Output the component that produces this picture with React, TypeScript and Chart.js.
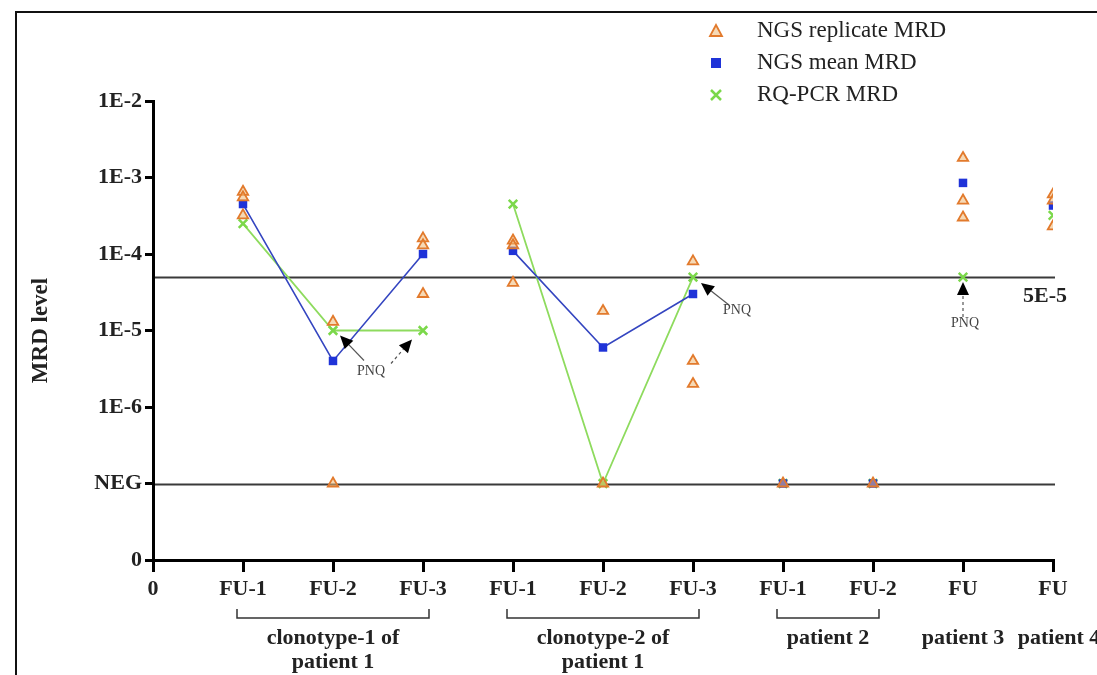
import React, { useEffect, useRef } from 'react';
import { Chart, registerables } from 'chart.js';

Chart.register(...registerables);

// ---------------- data ----------------
const xTickLabels = ['0', 'FU-1', 'FU-2', 'FU-3', 'FU-1', 'FU-2', 'FU-3', 'FU-1', 'FU-2', 'FU', 'FU'];
const yTickLabels = ['0', 'NEG', '1E-6', '1E-5', '1E-4', '1E-3', '1E-2'];
const NEG = 0; // negative sample
const sampleX = [1, 2, 3, 4, 5, 6, 7, 8, 9, 10];
const replicateMRD: number[][] = [
  [6.5e-4, 5.5e-4, 3.2e-4],
  [1.3e-5, NEG],
  [1.6e-4, 1.3e-4, 3.0e-5],
  [1.5e-4, 1.3e-4, 4.2e-5],
  [1.8e-5, NEG],
  [8.0e-5, 4.0e-6, 2.0e-6],
  [NEG],
  [NEG],
  [1.8e-3, 5.0e-4, 3.0e-4],
  [6.0e-4, 5.0e-4, 2.3e-4],
];
const meanMRD = [4.5e-4, 4.0e-6, 1.0e-4, 1.1e-4, 6.0e-6, 3.0e-5, NEG, NEG, 8.5e-4, 4.3e-4];
const rqpcrMRD = [2.5e-4, 1.0e-5, 1.0e-5, 4.5e-4, NEG, 5.0e-5, NEG, NEG, 5.0e-5, 3.2e-4];
const connectedGroups = [[0, 1, 2], [3, 4, 5]];
const thresholdMRD = 5e-5;
const thresholdLabel = '5E-5';
const seriesNames = ['NGS replicate MRD', 'NGS mean MRD', 'RQ-PCR MRD'];
const groupLabels = [
  { from: 1, to: 3, lines: ['clonotype-1 of', 'patient 1'], bracket: true, shift: 0 },
  { from: 4, to: 6, lines: ['clonotype-2 of', 'patient 1'], bracket: true, shift: 0 },
  { from: 7, to: 8, lines: ['patient 2'], bracket: true, shift: 0 },
  { from: 9, to: 9, lines: ['patient 3'], bracket: false, shift: 0 },
  { from: 10, to: 10, lines: ['patient 4'], bracket: false, shift: 6 },
];
const pnqLabel = 'PNQ';

// ---------------- styling ----------------
const SERIF = '"Liberation Serif", "Times New Roman", serif';
const ORANGE = '#E27A2C';
const ORANGE_FILL = 'rgba(238,186,120,0.55)';
const BLUE = '#1F33D8';
const BLUE_LINE = '#3445C0';
const GREEN = '#7BD84A';
const GREEN_LINE = '#8EDB5E';

const pnqArrows = [
  { sample: 1, tip: [7, 5], tail: [31, 30], dashed: false },
  { sample: 2, tip: [-11, 9], tail: [-32, 33], dashed: true },
  { sample: 5, tip: [8, 6], tail: [36, 28], dashed: false },
  { sample: 8, tip: [0, 5], tail: [0, 40], dashed: true },
];
const pnqTexts = [
  { sample: 1, off: [38, 41] },
  { sample: 5, off: [44, 33] },
  { sample: 8, off: [2, 46] },
];

const toAxis = (v: number) => (v === NEG ? 1 : Math.log10(v) + 8);

function buildLine(values: number[]) {
  const pts: any[] = [];
  connectedGroups.forEach((g, gi) => {
    if (gi > 0) pts.push({ x: sampleX[g[0]] - 0.5, y: null });
    g.forEach((i) => pts.push({ x: sampleX[i], y: toAxis(values[i]) }));
  });
  return pts;
}

const annotationPlugin = {
  id: 'mrdAnnotations',
  beforeDatasetsDraw(chart: any) {
    const { ctx, chartArea, scales } = chart;
    const y = scales.y;
    ctx.save();
    ctx.strokeStyle = '#3a3a3a';
    ctx.lineWidth = 2;
    [toAxis(thresholdMRD), toAxis(NEG)].forEach((v) => {
      const py = Math.round(y.getPixelForValue(v)) + 0.5;
      ctx.beginPath();
      ctx.moveTo(chartArea.left + 2, py);
      ctx.lineTo(chartArea.right + 2, py);
      ctx.stroke();
    });
    ctx.restore();
  },
  afterDatasetsDraw(chart: any) {
    const { ctx, scales } = chart;
    const xs = scales.x;
    const ys = scales.y;
    const pt = (i: number) => [xs.getPixelForValue(sampleX[i]), ys.getPixelForValue(toAxis(rqpcrMRD[i]))];
    ctx.save();
    pnqArrows.forEach((a) => {
      const [px, py] = pt(a.sample);
      const tx = px + a.tip[0], ty = py + a.tip[1];
      const fx = px + a.tail[0], fy = py + a.tail[1];
      const ang = Math.atan2(ty - fy, tx - fx);
      const L = 13, W = 6;
      const bx = tx - L * Math.cos(ang), by = ty - L * Math.sin(ang);
      ctx.strokeStyle = '#555';
      ctx.lineWidth = 1.2;
      ctx.setLineDash(a.dashed ? [3, 3] : []);
      ctx.beginPath();
      ctx.moveTo(fx, fy);
      ctx.lineTo(bx, by);
      ctx.stroke();
      ctx.setLineDash([]);
      ctx.fillStyle = '#000';
      ctx.beginPath();
      ctx.moveTo(tx, ty);
      ctx.lineTo(bx + W * Math.sin(ang), by - W * Math.cos(ang));
      ctx.lineTo(bx - W * Math.sin(ang), by + W * Math.cos(ang));
      ctx.closePath();
      ctx.fill();
    });
    ctx.fillStyle = '#444';
    ctx.font = `14px ${SERIF}`;
    ctx.textAlign = 'center';
    ctx.textBaseline = 'middle';
    pnqTexts.forEach((t) => {
      const [px, py] = pt(t.sample);
      ctx.fillText(pnqLabel, px + t.off[0], py + t.off[1]);
    });
    ctx.restore();
  },
  afterDraw(chart: any) {
    const { ctx, chartArea, scales } = chart;
    const xs = scales.x;
    const ys = scales.y;
    ctx.save();
    // threshold label
    ctx.fillStyle = '#222';
    ctx.font = `bold 22px ${SERIF}`;
    ctx.textAlign = 'right';
    ctx.textBaseline = 'middle';
    ctx.fillText(thresholdLabel, chartArea.right + 14, ys.getPixelForValue(toAxis(thresholdMRD)) + 19);

    // group labels and brackets
    const bracketY = chartArea.bottom + 58;
    ctx.strokeStyle = '#333';
    ctx.lineWidth = 1.5;
    ctx.fillStyle = '#222';
    ctx.textAlign = 'center';
    groupLabels.forEach((g) => {
      const x0 = xs.getPixelForValue(g.from) - 6;
      const x1 = xs.getPixelForValue(g.to) + 6;
      if (g.bracket) {
        ctx.beginPath();
        ctx.moveTo(x0, bracketY - 9);
        ctx.lineTo(x0, bracketY);
        ctx.lineTo(x1, bracketY);
        ctx.lineTo(x1, bracketY - 9);
        ctx.stroke();
      }
      const cx = (x0 + x1) / 2 + g.shift;
      g.lines.forEach((ln, li) => {
        ctx.fillText(ln, cx, bracketY + 20 + li * 24);
      });
    });

    // legend
    const lx = 716;
    const lyStart = 31;
    const lstep = 32;
    ctx.font = `23px ${SERIF}`;
    ctx.textAlign = 'left';
    ctx.textBaseline = 'middle';
    seriesNames.forEach((name, i) => {
      const ly = lyStart + i * lstep;
      if (i === 0) {
        ctx.fillStyle = ORANGE_FILL;
        ctx.strokeStyle = ORANGE;
        ctx.lineWidth = 1.8;
        ctx.beginPath();
        ctx.moveTo(lx, ly - 6);
        ctx.lineTo(lx + 6, ly + 5);
        ctx.lineTo(lx - 6, ly + 5);
        ctx.closePath();
        ctx.fill();
        ctx.stroke();
      } else if (i === 1) {
        ctx.fillStyle = BLUE;
        ctx.fillRect(lx - 5, ly - 5, 10, 10);
      } else {
        ctx.strokeStyle = GREEN;
        ctx.lineWidth = 2.5;
        ctx.beginPath();
        ctx.moveTo(lx - 5, ly - 5);
        ctx.lineTo(lx + 5, ly + 5);
        ctx.moveTo(lx + 5, ly - 5);
        ctx.lineTo(lx - 5, ly + 5);
        ctx.stroke();
      }
      ctx.fillStyle = '#222';
      ctx.fillText(name, lx + 41, ly);
    });
    ctx.restore();
  },
};

export default function App() {
  const ref = useRef<HTMLCanvasElement | null>(null);
  useEffect(() => {
    if (!ref.current) return;
    const replicatePts: any[] = [];
    replicateMRD.forEach((arr, i) => arr.forEach((v) => replicatePts.push({ x: sampleX[i], y: toAxis(v) })));
    const meanPts = meanMRD.map((v, i) => ({ x: sampleX[i], y: toAxis(v) }));
    const rqPts = rqpcrMRD.map((v, i) => ({ x: sampleX[i], y: toAxis(v) }));

    const chart = new Chart(ref.current, {
      type: 'scatter',
      data: {
        datasets: [
          {
            label: seriesNames[2] + ' line',
            data: buildLine(rqpcrMRD),
            showLine: true,
            spanGaps: false,
            borderColor: GREEN_LINE,
            borderWidth: 1.8,
            pointRadius: 0,
            order: 5,
          },
          {
            label: seriesNames[1] + ' line',
            data: buildLine(meanMRD),
            showLine: true,
            spanGaps: false,
            borderColor: BLUE_LINE,
            borderWidth: 1.6,
            pointRadius: 0,
            order: 4,
          },
          {
            label: seriesNames[2],
            data: rqPts,
            pointStyle: 'crossRot',
            pointRadius: 6,
            borderColor: GREEN,
            backgroundColor: GREEN,
            borderWidth: 2.5,
            order: 3,
          },
          {
            label: seriesNames[1],
            data: meanPts,
            pointStyle: 'rect',
            pointRadius: 6,
            borderColor: BLUE,
            backgroundColor: BLUE,
            borderWidth: 0,
            order: 2,
          },
          {
            label: seriesNames[0],
            data: replicatePts,
            pointStyle: 'triangle',
            pointRadius: 6,
            borderColor: ORANGE,
            backgroundColor: ORANGE_FILL,
            borderWidth: 1.8,
            order: 1,
          },
        ],
      },
      options: {
        responsive: false,
        animation: false,
        layout: { padding: { left: 0, top: 101, right: 44, bottom: 0 } },
        plugins: { legend: { display: false }, tooltip: { enabled: false } },
        scales: {
          x: {
            type: 'linear',
            min: 0,
            max: 10,
            afterFit: (s: any) => { s.height = 115; },
            afterBuildTicks: (s: any) => { s.ticks = xTickLabels.map((_, i) => ({ value: i })); },
            ticks: {
              autoSkip: false,
              maxRotation: 0,
              padding: 4,
              color: '#222',
              font: { family: SERIF, size: 22, weight: 'bold' },
              callback: (v: any) => xTickLabels[v] ?? '',
            },
            grid: { drawOnChartArea: false, drawTicks: true, tickLength: 12, color: '#000', lineWidth: 3 },
            border: { display: true, color: '#000', width: 3 },
          },
          y: {
            type: 'linear',
            min: 0,
            max: 6,
            afterFit: (s: any) => { s.width = 153; },
            afterBuildTicks: (s: any) => { s.ticks = yTickLabels.map((_, i) => ({ value: i })); },
            ticks: {
              padding: 3,
              color: '#222',
              font: { family: SERIF, size: 22, weight: 'bold' },
              callback: (v: any) => yTickLabels[v] ?? '',
            },
            title: {
              display: true,
              text: 'MRD level',
              color: '#222',
              font: { family: SERIF, size: 23, weight: 'bold' },
              padding: { top: 27, bottom: 0 },
            },
            grid: { drawOnChartArea: false, drawTicks: true, tickLength: 8, color: '#000', lineWidth: 3 },
            border: { display: true, color: '#000', width: 3 },
          },
        },
      },
      plugins: [annotationPlugin],
    });
    return () => chart.destroy();
  }, []);

  return (
    <div style={{ position: 'fixed', left: 0, top: 0, width: 1097, height: 675, background: '#fff', overflow: 'hidden' }}>
      <canvas ref={ref} width={1097} height={675} style={{ display: 'block' }} />
      <div
        style={{
          position: 'absolute',
          left: 15,
          top: 11,
          right: -10,
          bottom: -10,
          borderLeft: '2px solid #111',
          borderTop: '2px solid #111',
          pointerEvents: 'none',
        }}
      />
    </div>
  );
}
